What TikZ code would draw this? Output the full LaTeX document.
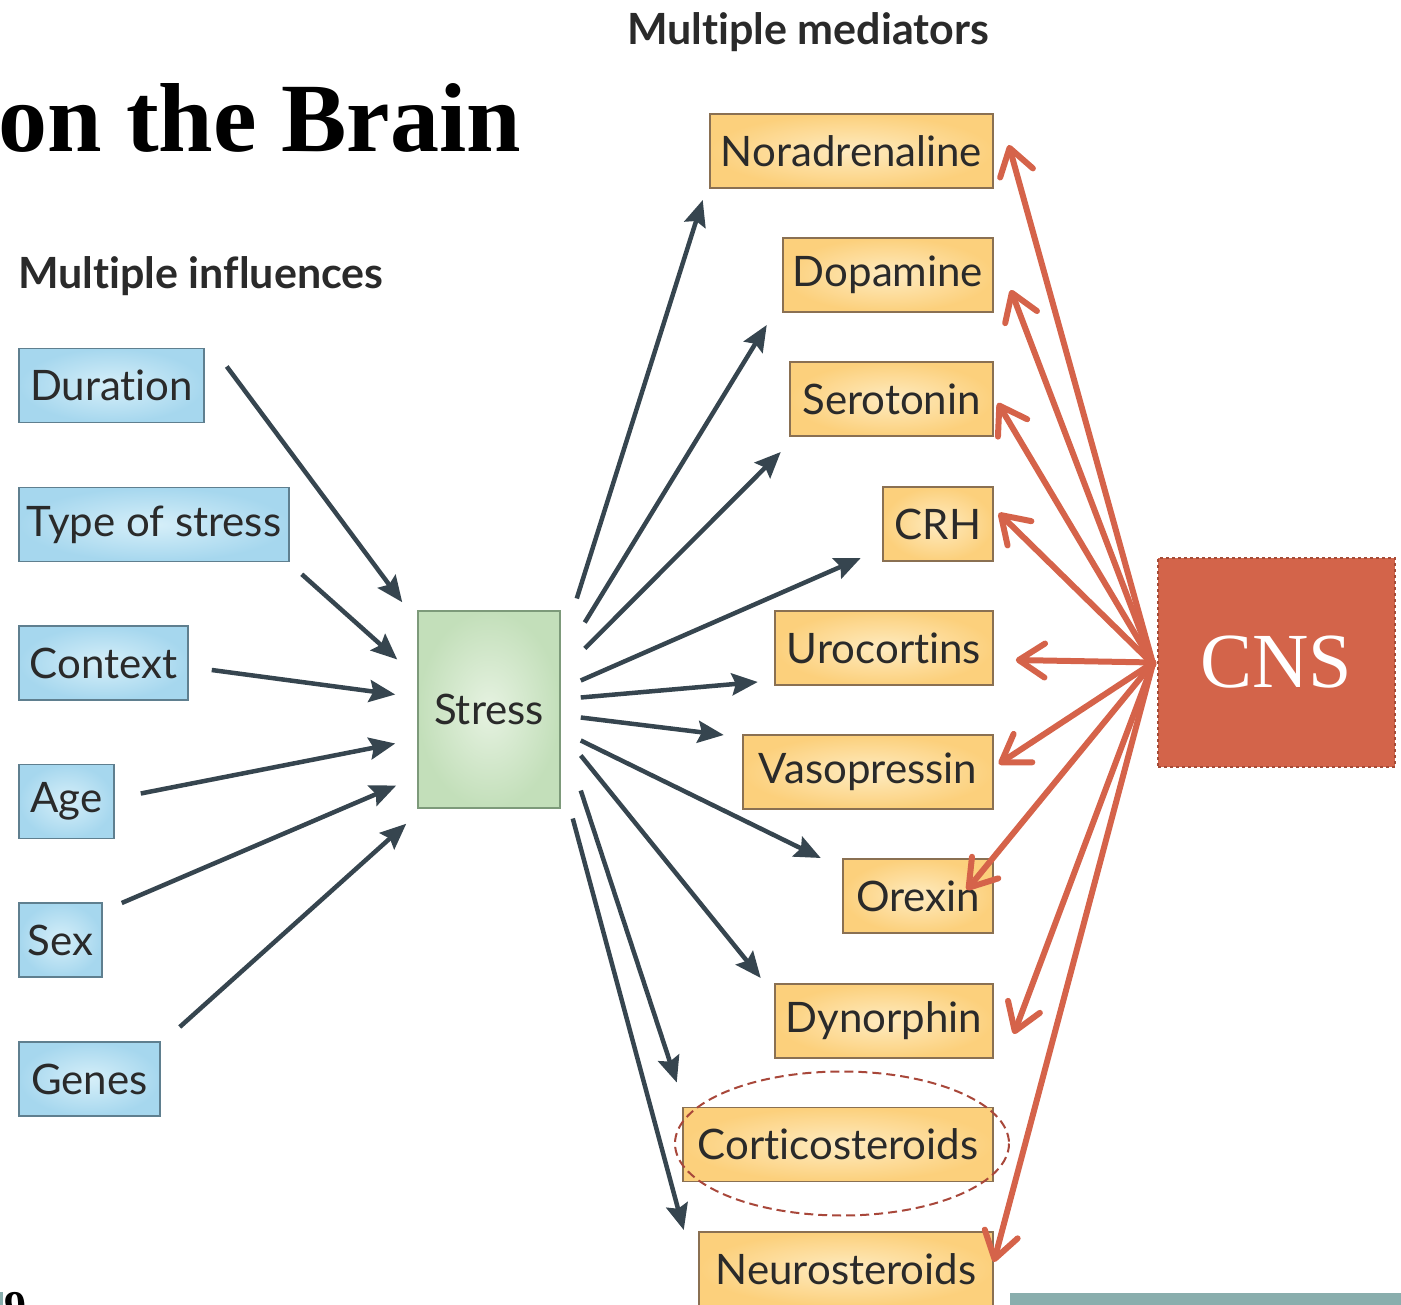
\documentclass[tikz,border=0pt]{standalone}
\usepackage{fontspec}
\usetikzlibrary{arrows.meta,calc}
\newfontfamily\lblfont[Ligatures={NoCommon}]{Lato}
\newfontfamily\ttlfont{Liberation Serif}
\definecolor{txt}{HTML}{2A2A2A}
\definecolor{darr}{HTML}{36454F}
\definecolor{rarr}{HTML}{D5634A}
\definecolor{cnsfill}{HTML}{D3644A}
\definecolor{cnsdraw}{HTML}{A54B37}
\definecolor{bluein}{HTML}{D6EFF9}
\definecolor{blueout}{HTML}{A6D7EE}
\definecolor{blueb}{HTML}{5F7F8F}
\definecolor{orain}{HTML}{FEEBC0}
\definecolor{oraout}{HTML}{FCD07C}
\definecolor{orab}{HTML}{8A7052}
\definecolor{grnin}{HTML}{E6F2E1}
\definecolor{grnout}{HTML}{C3DFBA}
\definecolor{grnb}{HTML}{7D9A7A}
\definecolor{teal}{HTML}{89AEAD}
\definecolor{ell}{HTML}{A8473A}
\begin{document}
\begin{tikzpicture}[x=1pt,y=-1pt,
  lbl/.style={font=\lblfont\fontsize{42}{42}\selectfont, text=txt, inner sep=0pt, minimum height=74},
  inf/.style={lbl, draw=blueb, line width=1.5, inner color=bluein, outer color=blueout},
  med/.style={lbl, draw=orab, line width=1.5, inner color=orain, outer color=oraout},
  head/.style={font=\lblfont\bfseries\fontsize{43}{43}\selectfont, text=txt, inner sep=0pt, anchor=west},
  darrow/.style={draw=darr, line width=4.5, -{Stealth[length=26, width=22, inset=4]}},
  rarrow/.style={draw=rarr, line width=6, line cap=round, -{Straight Barb[length=26, width=34, round]}}
]
\useasboundingbox (0,0) rectangle (1401,1305);

% title and headings
\node[anchor=base west, inner sep=0pt, font=\ttlfont\bfseries\fontsize{98}{98}\selectfont] (title) at (-2,152) {on the Brain};
\node[head] (hinf) at (18,276) {Multiple influences};
\node[head] (hmed) at (627,32) {Multiple mediators};
\node[anchor=base east, inner sep=0pt, font=\ttlfont\bfseries\fontsize{44}{44}\selectfont] (pnum) at (27,1321) {19};

% bottom teal bars
\fill[teal] (1010,1293) rectangle (1401,1305);
\fill[teal] (0,1292) rectangle (3,1305);

% influences
\node[inf, minimum width=185] (dur) at (111.5,385.5) {Duration};
\node[inf, minimum width=270] (typ) at (154,524.5) {Type of stress};
\node[inf, minimum width=169] (ctx) at (103.5,663) {Context};
\node[inf, minimum width=95] (age) at (66.5,801.5) {Age};
\node[inf, minimum width=83] (sex) at (60.5,940) {Sex};
\node[inf, minimum width=141] (gen) at (89.5,1079) {Genes};

% stress
\node[lbl, draw=grnb, line width=1.5, inner color=grnin, outer color=grnout, minimum width=142, minimum height=197] (stress) at (489,709.5) {Stress};

% mediators
\node[med, minimum width=283] (nor) at (851.5,151) {Noradrenaline};
\node[med, minimum width=210] (dop) at (888,275) {Dopamine};
\node[med, minimum width=203] (ser) at (891.5,399) {Serotonin};
\node[med, minimum width=110] (crh) at (938,524) {CRH};
\node[med, minimum width=218] (uro) at (884,648) {Urocortins};
\node[med, minimum width=250] (vas) at (868,772) {Vasopressin};
\node[med, minimum width=150] (ore) at (918,896) {Orexin};
\node[med, minimum width=218] (dyn) at (884,1021) {Dynorphin};
\node[med, minimum width=310] (cor) at (838,1144.5) {Corticosteroids};
\node[med, minimum width=294] (neu) at (846,1269) {Neurosteroids};

% highlight ellipse
\draw[ell, line width=2, dash pattern=on 9 off 5] ([shift={(4,-1)}]cor.center) ellipse [x radius=167, y radius=72];

% CNS
\node[fill=cnsfill, draw=cnsdraw, line width=1.5, dashed, minimum width=237, minimum height=209, inner sep=0pt,
      text=white, font=\ttlfont\fontsize{78}{78}\selectfont] (cns) at (1276.5,662.5) {CNS};

% influences -> stress
\draw[darrow] ([shift={(22,-19)}]dur.east) -- ([shift={(-15,-8)}]stress.north west);
\draw[darrow] ([shift={(12,12)}]typ.south east) -- ([shift={(-20,-50)}]stress.west);
\draw[darrow] ([shift={(23,7)}]ctx.east) -- ([shift={(-22,-15)}]stress.west);
\draw[darrow] ([shift={(26,-8)}]age.east) -- ([shift={(-22,34)}]stress.west);
\draw[darrow] ([shift={(19,-37)}]sex.east) -- ([shift={(-21,76)}]stress.west);
\draw[darrow] ([shift={(19,-52)}]gen.east) -- ([shift={(-11,15)}]stress.south west);

% stress -> mediators
\draw[darrow] ([shift={(16,-111)}]stress.east) -- ([shift={(-291,49)}]nor.east);
\draw[darrow] ([shift={(24,-87)}]stress.east) -- ([shift={(-227,50)}]dop.east);
\draw[darrow] ([shift={(24,-61)}]stress.east) -- ([shift={(-213,53)}]ser.east);
\draw[darrow] ([shift={(20,-29)}]stress.east) -- ([shift={(-133,34)}]crh.east);
\draw[darrow] ([shift={(20,-12)}]stress.east) -- ([shift={(-236,34)}]uro.east);
\draw[darrow] ([shift={(20,8)}]stress.east) -- ([shift={(-270,-37)}]vas.east);
\draw[darrow] ([shift={(20,31)}]stress.east) -- ([shift={(-173,-38)}]ore.east);
\draw[darrow] ([shift={(20,46)}]stress.east) -- ([shift={(-233,-43)}]dyn.east);
\draw[darrow] ([shift={(20,81)}]stress.east) -- ([shift={(-317,-62)}]cor.east);
\draw[darrow] ([shift={(12,109)}]stress.east) -- ([shift={(-310,-39)}]neu.east);

% CNS -> mediators
\draw[rarrow] ([shift={(-4,2)}]cns.west) -- ([shift={(15,-6)}]nor.east);
\draw[rarrow] ([shift={(-4,2)}]cns.west) -- ([shift={(17,15)}]dop.east);
\draw[rarrow] ([shift={(-4,2)}]cns.west) -- ([shift={(4,4)}]ser.east);
\draw[rarrow] ([shift={(-4,2)}]cns.west) -- ([shift={(5,-11)}]crh.east);
\draw[rarrow] ([shift={(-4,0)}]cns.west) -- ([shift={(22,12)}]uro.east);
\draw[rarrow] ([shift={(-4,0)}]cns.west) -- ([shift={(5,-8)}]vas.east);
\draw[rarrow] ([shift={(-4,0)}]cns.west) -- ([shift={(-27,-6)}]ore.east);
\draw[rarrow] ([shift={(-4,0)}]cns.west) -- ([shift={(20,13)}]dyn.east);
\draw[rarrow] ([shift={(-4,0)}]cns.west) -- ([shift={(0,-7)}]neu.east);
\end{tikzpicture}
\end{document}
